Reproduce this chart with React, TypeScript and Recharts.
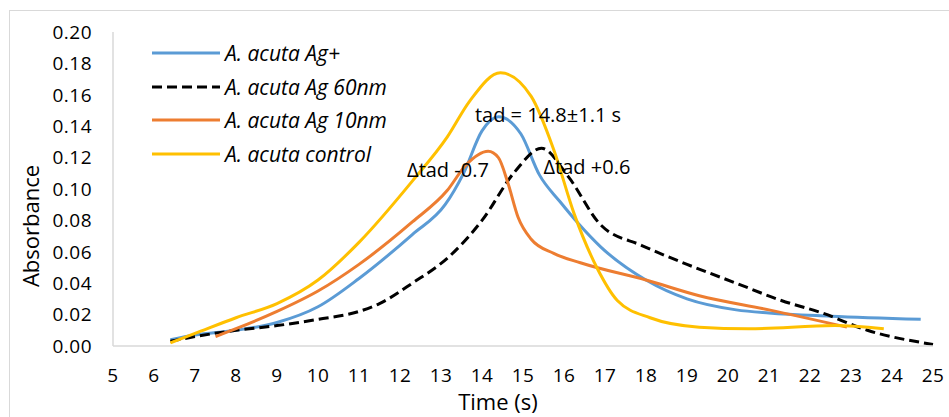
import { LineChart, Line, XAxis, YAxis, ReferenceDot } from 'recharts';

// time (s) / absorbance, one pair of arrays per series
const agIonTime = [6.4, 7, 8, 9, 10, 11, 12.3, 13.1, 13.55, 14, 14.4, 14.95, 15.4, 15.9, 16.35, 16.9, 18, 19, 20.2, 21, 22.5, 24.7];
const agIonAbs = [0.004, 0.007, 0.010, 0.015, 0.025, 0.043, 0.071, 0.090, 0.110, 0.137, 0.146, 0.135, 0.109, 0.092, 0.078, 0.063, 0.042, 0.030, 0.023, 0.021, 0.019, 0.017];

const ag60Time = [6.4, 7, 8, 9, 10, 11, 11.5, 12.3, 13.2, 14, 14.8, 15.45, 16.1, 16.9, 17.9, 19, 20.2, 21.3, 22.3, 23.4, 25];
const ag60Abs = [0.003, 0.006, 0.010, 0.013, 0.017, 0.022, 0.027, 0.040, 0.057, 0.080, 0.111, 0.126, 0.108, 0.077, 0.064, 0.052, 0.040, 0.029, 0.021, 0.010, 0.001];

const ag10Time = [7.5, 8, 9, 10, 11, 12.3, 13.15, 13.6, 14.15, 14.4, 14.63, 14.88, 15.2, 15.75, 16.4, 18, 19.3, 21, 22.9];
const ag10Abs = [0.006, 0.011, 0.022, 0.035, 0.052, 0.079, 0.099, 0.115, 0.124, 0.120, 0.104, 0.082, 0.068, 0.059, 0.053, 0.042, 0.032, 0.023, 0.012];

const controlTime = [6.4, 7, 8, 9, 10, 11, 12.3, 13.15, 13.7, 14.45, 15.2, 15.75, 16.25, 16.8, 17.3, 18.1, 19.3, 20.5, 22.6, 23.8];
const controlAbs = [0.002, 0.008, 0.018, 0.027, 0.042, 0.066, 0.105, 0.133, 0.156, 0.174, 0.159, 0.125, 0.084, 0.050, 0.029, 0.018, 0.012, 0.011, 0.013, 0.011];

const xTicks = [5, 6, 7, 8, 9, 10, 11, 12, 13, 14, 15, 16, 17, 18, 19, 20, 21, 22, 23, 24, 25];
const yTicks = [0, 0.02, 0.04, 0.06, 0.08, 0.1, 0.12, 0.14, 0.16, 0.18, 0.2];

const notes = [
  { x: 15.61, y: 0.147, text: 'tad = 14.8±1.1 s' },
  { x: 13.17, y: 0.112, text: 'Δtad -0.7' },
  { x: 16.56, y: 0.114, text: 'Δtad +0.6' },
];

const toRows = (t: number[], a: number[]) => t.map((time, i) => ({ time, abs: a[i] }));

const series = [
  { name: 'A. acuta Ag+', data: toRows(agIonTime, agIonAbs), color: '#5B9BD5', dash: undefined },
  { name: 'A. acuta Ag 60nm', data: toRows(ag60Time, ag60Abs), color: '#000000', dash: '10 5' },
  { name: 'A. acuta Ag 10nm', data: toRows(ag10Time, ag10Abs), color: '#ED7D31', dash: undefined },
  { name: 'A. acuta control', data: toRows(controlTime, controlAbs), color: '#FFC000', dash: undefined },
];

const font = '"Open Sans", Lato, sans-serif';
const tickStyle = { fontSize: 19, fill: '#000', fontFamily: font, letterSpacing: 0.5 };

function LegendBox() {
  return (
    <div style={{ position: 'absolute', left: 151, top: 36, fontFamily: font, fontSize: 21, fontStyle: 'italic', color: '#000' }}>
      {series.map((s) => (
        <div key={s.name} style={{ display: 'flex', alignItems: 'center', height: 33.7, whiteSpace: 'nowrap' }}>
          <svg width={70} height={6} style={{ marginRight: 4 }}>
            <line x1={1} y1={3} x2={69} y2={3} stroke={s.color} strokeWidth={3} strokeDasharray={s.dash} />
          </svg>
          <span>{s.name}</span>
        </div>
      ))}
    </div>
  );
}

export default function App() {
  return (
    <div style={{ position: 'fixed', left: 0, top: 0, width: 949, height: 417, background: '#fff', overflow: 'hidden' }}>
      {/* chart area frame */}
      <div style={{ position: 'absolute', left: 9, top: 10, width: 960, height: 420, borderLeft: '1.5px solid #d9d9d9', borderTop: '1.5px solid #d9d9d9' }} />
      <LineChart width={949} height={417} margin={{ top: 32, right: 16, bottom: 0, left: 0 }} style={{ position: 'absolute', left: 0, top: 0 }}>
        <XAxis
          type="number"
          dataKey="time"
          domain={[5, 25]}
          ticks={xTicks}
          interval={0}
          allowDuplicatedCategory={false}
          axisLine={{ stroke: '#d9d9d9', strokeWidth: 1.5 }}
          tickLine={false}
          tickMargin={17}
          tick={tickStyle}
          height={71}
        />
        <YAxis
          type="number"
          domain={[0, 0.2]}
          ticks={yTicks}
          interval={0}
          width={113}
          axisLine={{ stroke: '#d9d9d9', strokeWidth: 1.5 }}
          tickLine={false}
          tickMargin={15}
          tickFormatter={(v: number) => v.toFixed(2)}
          tick={tickStyle}
          label={{
            value: 'Absorbance',
            content: () => (
              <text x={39} y={226} transform="rotate(-90 39 226)" textAnchor="middle" fontSize={22} fontFamily={font} fill="#000">
                Absorbance
              </text>
            ),
          }}
        />
        {series.map((s) => (
          <Line
            key={s.name}
            data={s.data}
            dataKey="abs"
            name={s.name}
            type="monotone"
            stroke={s.color}
            strokeWidth={3}
            strokeDasharray={s.dash}
            dot={false}
            activeDot={false}
            isAnimationActive={false}
          />
        ))}
        {notes.map((n) => (
          <ReferenceDot
            key={n.text}
            x={n.x}
            y={n.y}
            r={0}
            fill="none"
            stroke="none"
            label={{ value: n.text, position: 'center', fontSize: 20, fill: '#000', fontFamily: font }}
          />
        ))}
        <text x={498} y={410} textAnchor="middle" fontSize={22} fontFamily={font} fill="#000">
          Time (s)
        </text>
      </LineChart>
      <LegendBox />
    </div>
  );
}
